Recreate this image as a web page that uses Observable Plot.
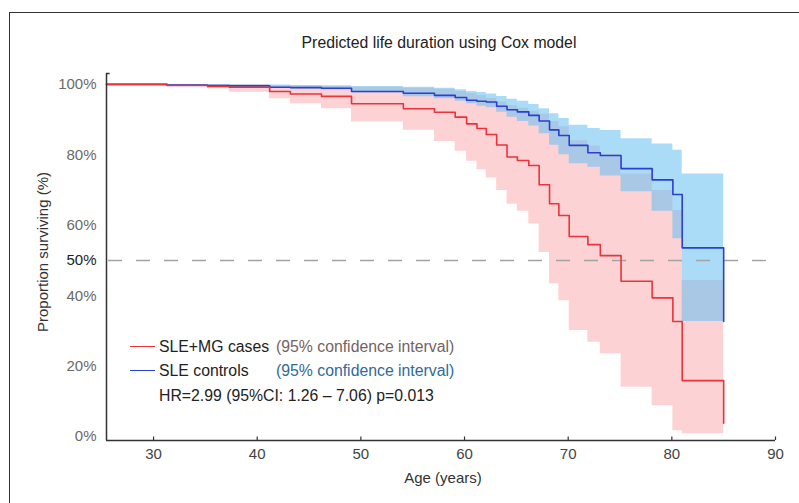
<!DOCTYPE html>
<html>
<head>
<meta charset="utf-8">
<script src="https://cdn.jsdelivr.net/npm/d3@7"></script>
<script src="https://cdn.jsdelivr.net/npm/@observablehq/plot@0.6"></script>
<style>
  html, body { margin: 0; padding: 0; background: #fff; }
  body { font-family: "Liberation Sans", Arial, Helvetica, sans-serif; }
  #wrap { position: relative; width: 799px; height: 503px; overflow: hidden; }
  #frame { position: absolute; left: 9px; top: 12px; width: 820px; height: 520px;
           border-left: 1.5px solid #333; border-top: 1.5px solid #333; box-sizing: border-box; }
  #chart { position: absolute; left: 0; top: 0; }
  .txt { position: absolute; white-space: nowrap; font-size: 15.8px; line-height: 18px; color: #222; }
  #title { left: 0; width: 878px; top: 34px; text-align: center; }
  #xlab { left: 0; width: 886px; top: 469px; text-align: center; color: #333; font-size: 15px; }
  #ylab { left: 43px; top: 252px; transform: translate(-50%, -50%) rotate(-90deg); color: #333; font-size: 15px; }
  .sw { position: absolute; width: 25px; height: 0; }
</style>
</head>
<body>
<div id="wrap">
  <div id="frame"></div>
  <div id="chart"></div>
  <div class="txt" id="title">Predicted life duration using Cox model</div>
  <div class="txt" id="xlab">Age (years)</div>
  <div class="txt" id="ylab">Proportion surviving (%)</div>
  <div id="legend"></div>
</div>
<script>
// ---- data (ages are the common event times; each value holds until the next age) ----
const ages      = [25.46, 31.3, 35.2, 37.3, 41.2, 43.2, 46.2, 49.1, 54.1, 57.1, 59.1, 60.2, 61.2, 62.1, 63.1, 64.1, 65.1, 66.2, 67.2, 68.2, 69.1, 70.1, 71.9, 73.1, 75.1, 78.1, 80.1, 81.0, 85.0];
const caseSurv  = [100, 99.7, 99.4, 99.2, 98.0, 97.3, 96.6, 94.5, 93.1, 92.1, 90.7, 88.8, 87.5, 85.8, 82.8, 79.4, 78.4, 77.0, 71.5, 66.1, 62.8, 56.8, 54.5, 51.4, 44.1, 39.4, 32.7, 15.9, 3.8];
const caseLower = [100, 99.5, 98.8, 97.8, 95.9, 94.5, 93.1, 89.3, 87.0, 83.8, 81.0, 78.2, 75.8, 73.4, 69.9, 66.0, 64.0, 60.4, 52.3, 43.4, 38.6, 30.1, 26.8, 23.5, 14.0, 8.8, 1.7, 0.8, 0.8];
const caseUpper = [100, 100, 99.9, 99.9, 99.7, 99.6, 99.5, 99.2, 98.9, 98.6, 98.0, 97.4, 96.8, 96.0, 95.0, 94.0, 93.2, 92.4, 91.5, 89.5, 88.0, 84.0, 82.5, 80.0, 74.6, 69.9, 64.2, 44.3, 44.3];
const ctrlSurv  = [100, 99.8, 99.7, 99.6, 99.2, 99.1, 98.9, 98.0, 97.5, 96.9, 96.3, 95.5, 95.2, 95.0, 93.8, 92.8, 92.2, 91.2, 89.6, 87.1, 85.5, 82.7, 80.6, 79.8, 76.1, 72.9, 68.75, 53.6, 32.7];
const ctrlLower = [100, 99.6, 99.4, 99.3, 99.0, 98.8, 98.5, 97.6, 96.5, 95.9, 95.2, 94.5, 93.8, 93.4, 92.1, 90.7, 89.5, 88.2, 86.0, 82.7, 80.0, 77.5, 76.5, 74.0, 69.5, 64.0, 56.2, 32.7, 32.7];
const ctrlUpper = [100, 100, 99.9, 99.9, 99.8, 99.7, 99.6, 99.4, 99.2, 98.9, 98.5, 98.0, 97.7, 97.3, 96.6, 95.8, 95.2, 94.3, 93.1, 91.7, 90.3, 88.4, 87.5, 86.9, 84.6, 83.1, 81.3, 74.6, 74.6];

const xTicks = [30, 40, 50, 60, 70, 80, 90];
const yTicks = [0, 20, 40, 60, 80, 100];
const yRef = [50];
const xDomain = [25.46, 90];
const yDomain = [-1.1, 103.1];

const legendItems = [
  {label: "SLE+MG cases", ci: "(95% confidence interval)", color: "#e8343a", ciColor: "#766262"},
  {label: "SLE controls", ci: "(95% confidence interval)", color: "#2b3fd1", ciColor: "#2f6a98"}
];
const statText = "HR=2.99 (95%CI: 1.26 \u2013 7.06) p=0.013";

const rows = ages.map((a, i) => ({
  age: a,
  caseSurv: caseSurv[i], caseLower: caseLower[i], caseUpper: caseUpper[i],
  ctrlSurv: ctrlSurv[i], ctrlLower: ctrlLower[i], ctrlUpper: ctrlUpper[i]
}));

const chart = Plot.plot({
  width: 799,
  height: 503,
  marginLeft: 106,
  marginRight: 24,
  marginTop: 73,
  marginBottom: 63,
  x: {domain: xDomain},
  y: {domain: yDomain},
  style: {fontFamily: "Liberation Sans, Arial, Helvetica, sans-serif", background: "transparent"},
  marks: [
    Plot.areaY(rows, {x: "age", y1: "caseLower", y2: "caseUpper", curve: "step-after", fill: "#fdd2d4"}),
    Plot.areaY(rows, {x: "age", y1: "ctrlLower", y2: "ctrlUpper", curve: "step-after", fill: "rgb(100,191,242)", fillOpacity: 0.55}),
    Plot.ruleY(yRef, {stroke: "#a3a3a3", strokeWidth: 1.3, strokeDasharray: "14,14", insetLeft: 2, insetRight: 9}),
    Plot.lineY(rows, {x: "age", y: "ctrlSurv", curve: "step-after", stroke: "#2b3fd1", strokeWidth: 1.6}),
    Plot.lineY(rows, {x: "age", y: "caseSurv", curve: "step-after", stroke: "#e8343a", strokeWidth: 1.6}),
    // axis lines
    Plot.ruleY([yDomain[0]], {stroke: "#333", strokeWidth: 1.5}),
    Plot.ruleX([xDomain[0]], {stroke: "#333", strokeWidth: 1.5}),
    Plot.ruleY([yDomain[1]], {x1: xDomain[0], x2: xDomain[0] + 0.35, stroke: "#333", strokeWidth: 1.5}),
    // x tick marks (inward)
    Plot.ruleX(xTicks, {y1: yDomain[0], y2: yDomain[0] + 1.0, stroke: "#333", strokeWidth: 1.2}),
    Plot.axisX({ticks: xTicks, tickSize: 0, tickPadding: 8, label: null, fontSize: 15, fill: "#444"}),
    Plot.axisY({ticks: yTicks, tickSize: 0, tickPadding: 10, label: null, fontSize: 15, fill: "#6a6a6a", tickFormat: d => d + "%"}),
    Plot.axisY({ticks: yRef, tickSize: 0, tickPadding: 10, label: null, fontSize: 15, fill: "#222", tickFormat: d => d + "%"})
  ]
});
document.getElementById("chart").appendChild(chart);

// legend overlay
const lg = document.getElementById("legend");
const rowY = [347, 371];
legendItems.forEach((it, i) => {
  const sw = document.createElement("div");
  sw.className = "sw";
  sw.style.left = "130px";
  sw.style.top = (rowY[i] - 1) + "px";
  sw.style.borderTop = "1.5px solid " + it.color;
  lg.appendChild(sw);
  const t = document.createElement("div");
  t.className = "txt";
  t.style.left = "159px";
  t.style.top = (rowY[i] - 9) + "px";
  t.textContent = it.label;
  lg.appendChild(t);
  const c = document.createElement("div");
  c.className = "txt";
  c.style.left = "276px";
  c.style.top = (rowY[i] - 9) + "px";
  c.style.color = it.ciColor;
  c.textContent = it.ci;
  lg.appendChild(c);
});
const st = document.createElement("div");
st.className = "txt";
st.style.left = "159px";
st.style.top = (396 - 9) + "px";
st.textContent = statText;
lg.appendChild(st);
</script>
</body>
</html>
